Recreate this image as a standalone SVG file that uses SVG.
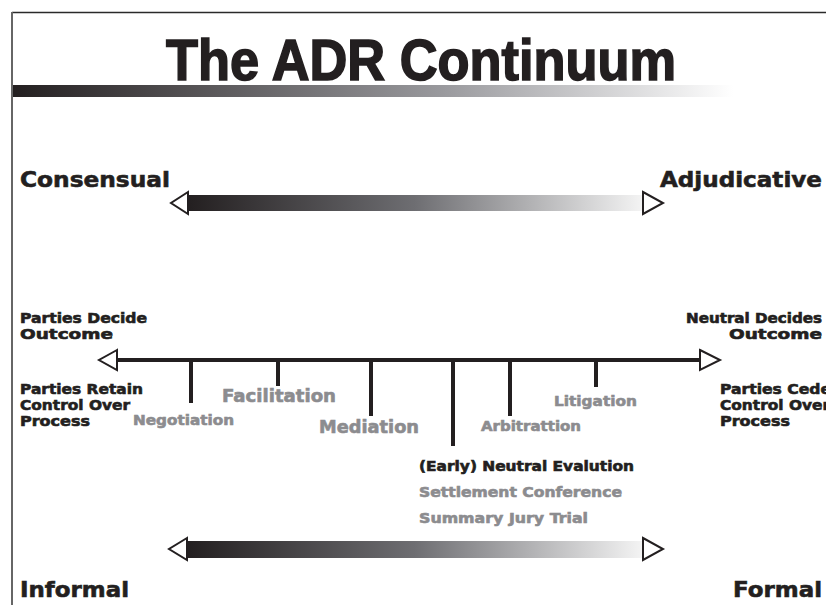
<svg xmlns="http://www.w3.org/2000/svg" width="826" height="605" viewBox="0 0 826 605">
<defs>
<linearGradient id="gTitle" x1="0" y1="0" x2="1" y2="0">
<stop offset="0" stop-color="#231f20"/>
<stop offset="0.6" stop-color="#9a9a9e"/>
<stop offset="1" stop-color="#ffffff"/>
</linearGradient>
<linearGradient id="gBar" x1="0" y1="0" x2="1" y2="0">
<stop offset="0" stop-color="#231f20"/>
<stop offset="0.5" stop-color="#6e6e72"/>
<stop offset="1" stop-color="#f4f4f4"/>
</linearGradient>
<style>
.t{font-family:"DejaVu Sans","Liberation Sans",sans-serif;font-weight:bold;fill:#231f20;stroke:#231f20;stroke-width:0.6}
.g{font-family:"DejaVu Sans","Liberation Sans",sans-serif;font-weight:bold;fill:#8c8c8f;stroke:#8c8c8f;stroke-width:0.6}
.big{font-size:22px}
.sm{font-size:13.7px}
.md{font-size:17px}
.head{fill:#ffffff;stroke:#231f20;stroke-width:2;stroke-linejoin:miter}
.tick{stroke:#231f20;stroke-width:4}
</style>
</defs>
<rect width="826" height="605" fill="#ffffff"/>
<g id="frame">
<line x1="12" y1="12.5" x2="826" y2="12.5" stroke="#2a2a2a" stroke-width="1.5"/>
<line x1="12" y1="12" x2="12" y2="605" stroke="#666" stroke-width="2"/>
</g>
<g id="title">
<text x="166" y="80" font-family="Liberation Sans, Arial, sans-serif" font-weight="bold" font-size="57" fill="#231f20" stroke="#231f20" stroke-width="1.6" textLength="510" lengthAdjust="spacingAndGlyphs">The ADR Continuum</text>
<rect x="13" y="85" width="720" height="12" fill="url(#gTitle)"/>
</g>
<g id="consensual-scale">
<text class="t big" x="20" y="187" textLength="150" lengthAdjust="spacingAndGlyphs">Consensual</text>
<text class="t big" x="660" y="187" textLength="162" lengthAdjust="spacingAndGlyphs">Adjudicative</text>
<rect x="187" y="195" width="456" height="16" fill="url(#gBar)"/>
<polygon class="head" points="188,192 171,203 188,214"/>
<polygon class="head" points="643,192 663,203 643,214"/>
</g>
<g id="connectors">
<line x1="116" y1="360" x2="701" y2="360" stroke="#231f20" stroke-width="4"/>
<polygon class="head" points="117,350 99,360 117,370"/>
<polygon class="head" points="700,350 720,360 700,370"/>
<line class="tick" x1="191" y1="360" x2="191" y2="403"/>
<line class="tick" x1="278" y1="360" x2="278" y2="386"/>
<line class="tick" x1="371" y1="360" x2="371" y2="416"/>
<line class="tick" x1="453" y1="360" x2="453" y2="446"/>
<line class="tick" x1="510" y1="360" x2="510" y2="416"/>
<line class="tick" x1="596" y1="360" x2="596" y2="387"/>
</g>
<g id="left-labels">
<text class="t sm" x="20" y="323" textLength="127" lengthAdjust="spacingAndGlyphs">Parties Decide</text>
<text class="t sm" x="20" y="339" textLength="93" lengthAdjust="spacingAndGlyphs">Outcome</text>
<text class="t sm" x="20" y="394" textLength="123" lengthAdjust="spacingAndGlyphs">Parties Retain</text>
<text class="t sm" x="20" y="410" textLength="110" lengthAdjust="spacingAndGlyphs">Control Over</text>
<text class="t sm" x="20" y="426" textLength="70" lengthAdjust="spacingAndGlyphs">Process</text>
</g>
<g id="right-labels">
<text class="t sm" x="822" y="323" text-anchor="end" textLength="136" lengthAdjust="spacingAndGlyphs">Neutral Decides</text>
<text class="t sm" x="822" y="339" text-anchor="end" textLength="93" lengthAdjust="spacingAndGlyphs">Outcome</text>
<text class="t sm" x="720" y="394" textLength="111" lengthAdjust="spacingAndGlyphs">Parties Cede</text>
<text class="t sm" x="720" y="410" textLength="110" lengthAdjust="spacingAndGlyphs">Control Over</text>
<text class="t sm" x="720" y="426" textLength="70" lengthAdjust="spacingAndGlyphs">Process</text>
</g>
<g id="negotiation"><text class="g sm" x="133" y="425" textLength="101" lengthAdjust="spacingAndGlyphs">Negotiation</text></g>
<g id="facilitation"><text class="g md" x="222" y="402" textLength="114" lengthAdjust="spacingAndGlyphs">Facilitation</text></g>
<g id="mediation"><text class="g md" x="319" y="433" textLength="100" lengthAdjust="spacingAndGlyphs">Mediation</text></g>
<g id="arbitration"><text class="g sm" x="481" y="431" textLength="100" lengthAdjust="spacingAndGlyphs">Arbitrattion</text></g>
<g id="litigation"><text class="g sm" x="554" y="406" textLength="83" lengthAdjust="spacingAndGlyphs">Litigation</text></g>
<g id="evaluation">
<text class="t sm" x="419" y="471" textLength="215" lengthAdjust="spacingAndGlyphs">(Early) Neutral Evalution</text>
<text class="g sm" x="419" y="497" textLength="203" lengthAdjust="spacingAndGlyphs">Settlement Conference</text>
<text class="g sm" x="419" y="523" textLength="169" lengthAdjust="spacingAndGlyphs">Summary Jury Trial</text>
</g>
<g id="formality-scale">
<rect x="187" y="541" width="456" height="17" fill="url(#gBar)"/>
<polygon class="head" points="187,538 169,549 187,560"/>
<polygon class="head" points="643,538 663,549 643,560"/>
<text class="t big" x="20" y="597" textLength="109" lengthAdjust="spacingAndGlyphs">Informal</text>
<text class="t big" x="822" y="597" text-anchor="end" textLength="89" lengthAdjust="spacingAndGlyphs">Formal</text>
</g>
</svg>
